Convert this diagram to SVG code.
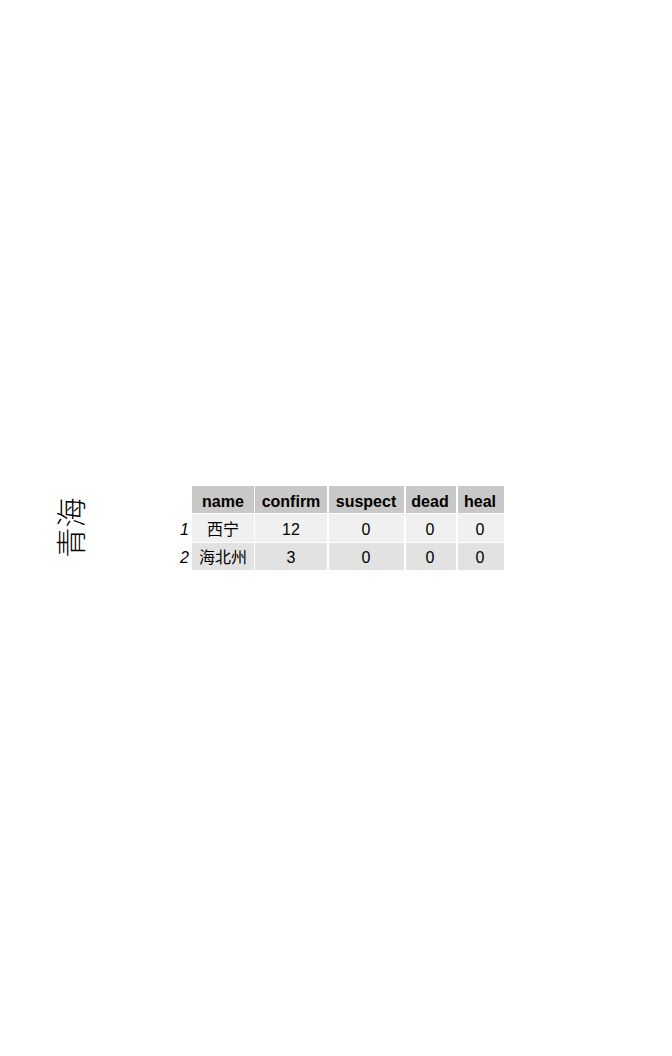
<svg xmlns="http://www.w3.org/2000/svg" width="672" height="1056" viewBox="0 0 672 1056">
<style>
.t{font-family:"Liberation Sans","Noto Sans CJK SC",sans-serif;font-size:16px;fill:#000;text-anchor:middle}
.h{font-weight:bold}
.i{font-style:italic;text-anchor:end}
.hd{fill:#c8c8c8}
.r1{fill:#f0f0f0}
.r2{fill:#e2e2e2}
</style>
<rect width="672" height="1056" fill="#fff"/>
<g id="title">
<text class="t" transform="translate(68.5,527.5) rotate(-90)" dominant-baseline="central" style="font-size:30px;font-family:'Noto Sans CJK SC',sans-serif;font-weight:300">青海</text>
</g>
<g id="table">
<rect class="hd" x="192" y="486" width="62" height="27"/>
<rect class="hd" x="255" y="486" width="72" height="27"/>
<rect class="hd" x="329" y="486" width="75" height="27"/>
<rect class="hd" x="406" y="486" width="50" height="27"/>
<rect class="hd" x="458" y="486" width="46" height="27"/>
<rect class="r1" x="192" y="514" width="62" height="28"/>
<rect class="r1" x="255" y="514" width="72" height="28"/>
<rect class="r1" x="329" y="514" width="75" height="28"/>
<rect class="r1" x="406" y="514" width="50" height="28"/>
<rect class="r1" x="458" y="514" width="46" height="28"/>
<rect class="r2" x="192" y="543" width="62" height="27"/>
<rect class="r2" x="255" y="543" width="72" height="27"/>
<rect class="r2" x="329" y="543" width="75" height="27"/>
<rect class="r2" x="406" y="543" width="50" height="27"/>
<rect class="r2" x="458" y="543" width="46" height="27"/>
<text class="t h" x="223" y="507">name</text>
<text class="t h" x="291" y="507">confirm</text>
<text class="t h" x="366" y="507">suspect</text>
<text class="t h" x="430" y="507">dead</text>
<text class="t h" x="480" y="507">heal</text>
<text class="t i" x="189" y="535">1</text>
<text class="t" x="223" y="535">西宁</text>
<text class="t" x="291" y="535">12</text>
<text class="t" x="366" y="535">0</text>
<text class="t" x="430" y="535">0</text>
<text class="t" x="480" y="535">0</text>
<text class="t i" x="189" y="563">2</text>
<text class="t" x="223" y="563">海北州</text>
<text class="t" x="291" y="563">3</text>
<text class="t" x="366" y="563">0</text>
<text class="t" x="430" y="563">0</text>
<text class="t" x="480" y="563">0</text>
</g>
</svg>
